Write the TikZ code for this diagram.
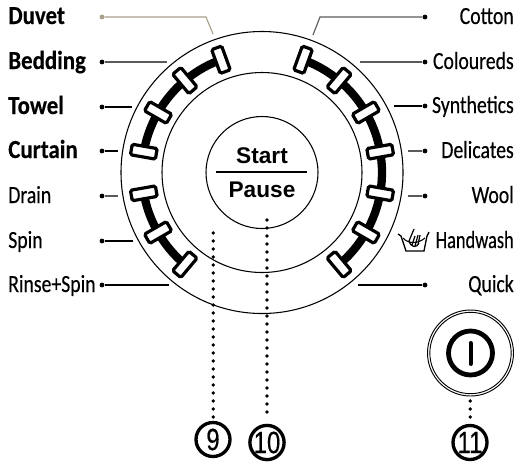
\documentclass[tikz,border=0pt]{standalone}
\usepackage{fontspec}
\usepackage{graphicx}
\setmainfont{Liberation Sans}
\newfontfamily\lblfont[FakeStretch=0.8,FakeBold=0.3]{Carlito}
\newfontfamily\lblbold[FakeStretch=0.88,FakeBold=0.3]{Carlito}
\newfontfamily\numfont[FakeBold=0.5]{Liberation Sans}
\usetikzlibrary{calc}
\definecolor{duvetline}{HTML}{A89F8C}
\definecolor{greyline}{HTML}{5A5A5A}
\newcommand{\numtxt}[1]{\scalebox{0.78}[1]{\numfont #1}}
\tikzset{
  x=0.75pt,y=-0.75pt,
  ring/.style={draw=black,line width=0.8pt,fill=none},
  lead/.style={line width=0.85pt},
  leaddot/.style={circle,fill=black,inner sep=0pt,minimum size=3.6pt},
  lefttxt/.style={anchor=base west,inner sep=0pt,font=\lblfont\fontsize{18.5}{18.5}\selectfont},
  leftbold/.style={lefttxt,font=\lblbold\bfseries\fontsize{19.5}{19.5}\selectfont},
  righttxt/.style={anchor=base east,inner sep=0pt,font=\lblfont\fontsize{18.5}{18.5}\selectfont},
  track/.style={line width=6.2pt},
  knob/.style={draw=black,fill=white,line width=2.4pt,rounded corners=1.2pt,minimum width=19pt,minimum height=8pt,inner sep=0pt},
  dots/.style={line width=2.8pt,line cap=round,dash pattern=on 0pt off 6pt},
  numc/.style={circle,draw=black,line width=2.5pt,inner sep=0pt,minimum size=25.5pt,font=\fontsize{23}{23}\selectfont},
  btxt/.style={inner sep=0pt,font=\bfseries\fontsize{17}{17}\selectfont}
}
\begin{document}
\begin{tikzpicture}
\useasboundingbox (0,0) rectangle (516,461);
\coordinate (c) at (262,172.5);
\node[ring,circle,minimum size=211.5pt,inner sep=0pt] (outer) at (c) {};
\node[ring,circle,minimum size=150pt,inner sep=0pt] (middle) at (c) {};
\node[ring,circle,minimum size=84pt,inner sep=0pt] (inner) at (c) {};
% tracks
\foreach \a/\b in {110/170,190/230,-50/70}
  \draw[track] plot[domain=\a:\b,samples=40] ({262+120*cos(\x)},{172.5-120*sin(\x)});
% knobs
\foreach \a in {110,130,150,170,190,210,230,70,50,30,10,-10,-30,-50}
  \node[knob,rotate=\a] (k\a) at ({262+120*cos(\a)},{172.5-120*sin(\a)}) {};
% start/pause
\coordinate (sl) at (216,172);
\coordinate (sr) at (307,172);
\draw[line width=1pt] (sl) -- (sr);
\node[btxt] (start) at (262,155.5) {Start};
\node[btxt] (pause) at (262,190) {Pause};
% left labels
\foreach \n/\t/\y/\e/\s/\k in {bed/Bedding/62/167/leftbold/greyline,tow/Towel/107/132/leftbold/black,cur/Curtain/151/118/leftbold/black,dra/Drain/196/118/lefttxt/greyline,spi/Spin/241/133/lefttxt/black,rin/Rinse+Spin/285/169/lefttxt/black}{
  \node[\s] (t\n) at (8,\y+7) {\t};
  \node[leaddot] (d\n) at (102,\y) {};
  \coordinate (e\n) at (\e,\y);
  \draw[lead,draw=\k] (d\n) -- (e\n);
}
\node[leftbold] (tduv) at (8,24) {Duvet};
\node[leaddot,fill=duvetline] (dduv) at (102,17) {};
\coordinate (bduv) at (206,17);
\coordinate (eduv) at (213,34);
\draw[lead,draw=duvetline] (dduv) -- (bduv) -- (eduv);
% right labels
\foreach \n/\t/\y/\e/\k in {col/Coloureds/62/360/greyline,syn/Synthetics/106/394/black,del/Delicates/151/408/greyline,woo/Wool/196/408/greyline,qui/Quick/285/358/black}{
  \node[righttxt] (t\n) at (514,\y+7) {\t};
  \node[leaddot] (d\n) at (425,\y) {};
  \coordinate (e\n) at (\e,\y);
  \draw[lead,draw=\k] (d\n) -- (e\n);
}
\node[righttxt] (tcot) at (514,24) {Cotton};
\node[leaddot] (dcot) at (425,17) {};
\coordinate (bcot) at (320,17);
\coordinate (ecot) at (313,35);
\draw[lead,draw=greyline] (dcot) -- (bcot) -- (ecot);
\node[righttxt] (thand) at (514,248) {\scalebox{0.93}[1]{Handwash}};
% handwash icon
\draw[line width=1pt] (398,234) -- (401,236) -- (406,251) -- (424,251) -- (427,236) -- (429,232);
\draw[line width=0.8pt] (403,238) .. controls (408,244) and (418,244) .. (425,238);
\draw[line width=0.9pt] (409,241) -- (414,229) (412,245) -- (415,236) (415,246) -- (418,235) (418,245) -- (420,235) (409,241) .. controls (411,248) and (417,248) .. (419,243);
% callouts
\node[numc] (n9) at (213,439.5) {\numtxt{9}};
\node[numc] (n10) at (267,442.5) {\numtxt{10}};
\node[numc] (n11) at (470,442.5) {\numtxt{11}};
\coordinate (s9) at (213.3,233);
\coordinate (s10) at (267,220);
\coordinate (e9) at (213.3,417);
\coordinate (e10) at (267,418);
\draw[dots] (s9) -- (e9);
\draw[dots] (s10) -- (e10);
% power
\node[circle,draw=black,line width=0.7pt,minimum size=64.5pt,inner sep=0pt] (pwouter) at (470.5,353) {};
\node[circle,draw=black,line width=0.7pt,minimum size=61pt,inner sep=0pt] (pwinner) at (470.5,353) {};
\node[circle,draw=black,line width=3.6pt,minimum size=33pt,inner sep=0pt] (pwicon) at (470.5,353) {};
\coordinate (pt) at (470.5,343);
\coordinate (pb) at (470.5,364);
\draw[line width=3pt,line cap=round] (pt) -- (pb);
\coordinate (s11) at (470.3,401);
\coordinate (e11) at (470.3,418);
\draw[dots] (s11) -- (e11);
\end{tikzpicture}
\end{document}
